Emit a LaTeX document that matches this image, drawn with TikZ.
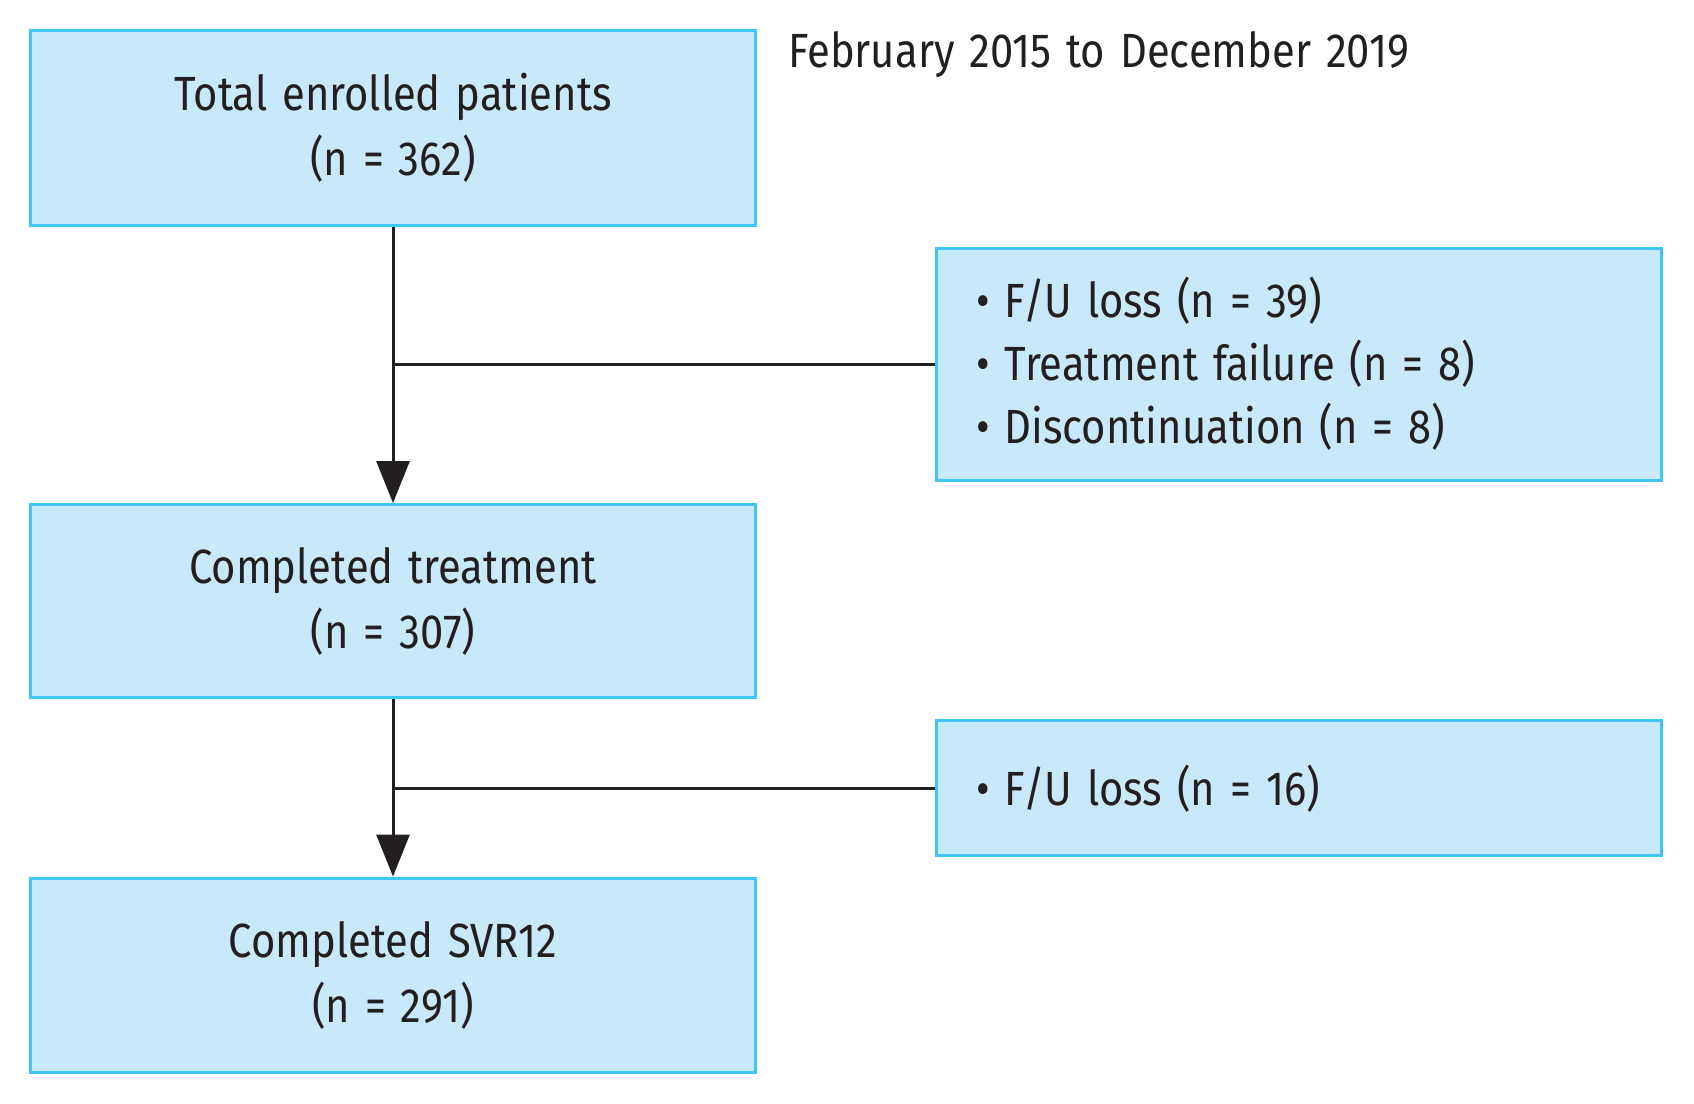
\documentclass[tikz,border=0pt]{standalone}
\usepackage{fontspec}
\setmainfont{Fira Sans}[FakeStretch=0.87, WordSpace=1.35]
\usetikzlibrary{arrows.meta}
\definecolor{boxfill}{HTML}{C8E9FA}
\definecolor{boxline}{HTML}{40C6F2}
\definecolor{ink}{HTML}{231F20}
\tikzset{
  mainbox/.style={draw=boxline, fill=boxfill, line width=3pt, minimum width=725pt, align=center, inner sep=0pt, text=ink, font=\fontsize{48}{65}\selectfont},
  sidebox/.style={draw=boxline, fill=boxfill, line width=3pt, minimum width=725pt, inner sep=0pt},
  itemtext/.style={anchor=west, inner sep=0pt, text=ink, font=\fontsize{48}{63}\selectfont, align=left},
  flow/.style={draw=ink, line width=3pt, -{Triangle[length=42pt,width=33pt]}},
  branch/.style={draw=ink, line width=3pt},
}
\begin{document}
\begin{tikzpicture}[x=1pt,y=-1pt]
\useasboundingbox (0,0) rectangle (1694,1103);
\node[mainbox, minimum height=195pt] (b1) at (393,128) {Total enrolled patients\\(n = 362)};
\node[mainbox, minimum height=193pt] (b2) at (393,601) {Completed treatment\\(n = 307)};
\node[mainbox, minimum height=194pt] (b3) at (393,975) {Completed SVR12\\(n = 291)};
\node[sidebox, minimum height=232pt] (r1) at (1299,364) {};
\node[sidebox, minimum height=135pt] (r2) at (1299,788) {};
\node[itemtext] (t1) at (976,364) {• F/U loss (n = 39)\\• Treatment failure (n = 8)\\• Discontinuation (n = 8)};
\node[itemtext] (t2) at (976,789) {• F/U loss (n = 16)};
\node[anchor=west, inner sep=0pt, text=ink, font=\fontsize{48}{55}\selectfont] (date) at (788,55) {February 2015 to December 2019};
\coordinate (j1) at (b1.south |- r1.west);
\coordinate (j2) at (b2.south |- r2.west);
\draw[flow] (b1.south) -- (b2.north);
\draw[flow] (b2.south) -- (b3.north);
\draw[branch] (j1) -- (r1.west);
\draw[branch] (j2) -- (r2.west);
\end{tikzpicture}
\end{document}
